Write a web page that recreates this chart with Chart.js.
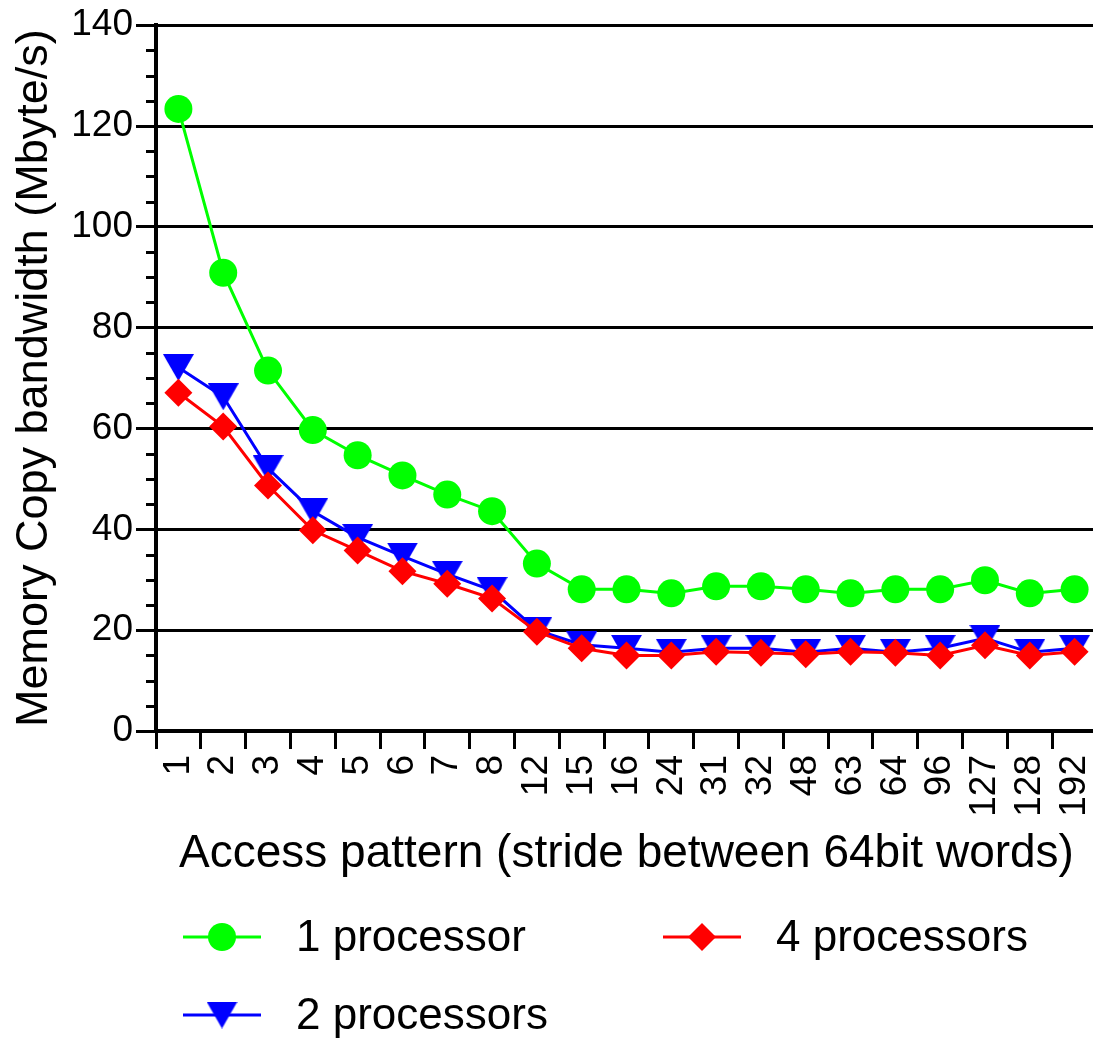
<!DOCTYPE html>
<html>
<head>
<meta charset="utf-8">
<title>Memory copy bandwidth</title>
<script src="https://cdn.jsdelivr.net/npm/chart.js"></script>
<style>
  html, body { margin: 0; padding: 0; background: #fff; overflow: hidden; }
  canvas { display: block; }
</style>
</head>
<body>
<canvas id="bandwidth" width="1111" height="1039"></canvas>
<script>
// stride between 64bit words
const strides = ['1', '2', '3', '4', '5', '6', '7', '8', '12', '15', '16', '24',
                 '31', '32', '48', '63', '64', '96', '127', '128', '192'];

// Mbyte/s
const oneProcessor = [123.4, 90.9, 71.5, 59.7, 54.7, 50.7, 46.9, 43.6, 33.2, 28.1, 28.1,
                      27.3, 28.7, 28.7, 28.1, 27.3, 28.1, 28.1, 29.9, 27.3, 28.1];
const twoProcessors = [72.1, 66.3, 52.1, 43.6, 38.4, 34.7, 31.1, 27.9, 20.0, 17.1, 16.4,
                       15.6, 16.4, 16.4, 15.6, 16.4, 15.6, 16.4, 18.4, 15.6, 16.4];
const fourProcessors = [67.1, 60.4, 48.7, 39.8, 35.8, 31.7, 29.2, 26.3, 19.7, 16.4, 15.0,
                        15.0, 15.7, 15.5, 15.2, 15.7, 15.5, 15.0, 17.0, 15.0, 15.7];

const FONT = '"Liberation Sans", Arial, Helvetica, sans-serif';

// downward triangle marker, drawn centred on the point
function downTriangle(w, h, color) {
    const c = document.createElement('canvas');
    c.width = w;
    c.height = h;
    const g = c.getContext('2d');
    g.fillStyle = color;
    g.beginPath();
    g.moveTo(0, 0);
    g.lineTo(w, 0);
    g.lineTo(w / 2, h);
    g.closePath();
    g.fill();
    return c;
}

const blueTriangle = downTriangle(31, 27, '#0000ff');

function drawMarker(ctx, ds, x, y) {
    ctx.save();
    ctx.fillStyle = ds.pointBackgroundColor;
    const r = ds.pointRadius;
    if (ds.pointStyle === 'circle') {
        ctx.beginPath();
        ctx.arc(x, y, r, 0, Math.PI * 2);
        ctx.fill();
    } else if (ds.pointStyle === 'rectRot') {
        ctx.beginPath();
        ctx.moveTo(x - r, y);
        ctx.lineTo(x, y - r);
        ctx.lineTo(x + r, y);
        ctx.lineTo(x, y + r);
        ctx.closePath();
        ctx.fill();
    } else {
        const img = ds.pointStyle;
        ctx.drawImage(img, x - img.width / 2, y - img.height / 2);
    }
    ctx.restore();
}

// small ticks every 5 Mbyte/s on the value axis
const minorTicks = {
    id: 'minorTicks',
    afterDraw(chart) {
        const ctx = chart.ctx;
        const y = chart.scales.y;
        const left = chart.chartArea.left;
        ctx.save();
        ctx.strokeStyle = '#000';
        ctx.lineWidth = 3;
        for (let v = 5; v < y.max; v += 5) {
            if (v % 20 === 0) continue;
            const py = Math.round(y.getPixelForValue(v)) + 0.5;
            ctx.beginPath();
            ctx.moveTo(left - 10, py);
            ctx.lineTo(left, py);
            ctx.stroke();
        }
        ctx.restore();
    }
};

// two column legend under the axis title
const legendOrder = [0, 2, 1];
const lineLegend = {
    id: 'lineLegend',
    afterDraw(chart) {
        const ctx = chart.ctx;
        const cols = [183, 663];
        const rows = [937, 1015];
        ctx.save();
        ctx.font = '44px ' + FONT;
        ctx.textBaseline = 'middle';
        ctx.fillStyle = '#000';
        legendOrder.forEach((idx, i) => {
            const ds = chart.data.datasets[idx];
            const x = cols[i % 2];
            const y = rows[Math.floor(i / 2)];
            ctx.strokeStyle = ds.borderColor;
            ctx.lineWidth = 3;
            ctx.beginPath();
            ctx.moveTo(x, y);
            ctx.lineTo(x + 78, y);
            ctx.stroke();
            drawMarker(ctx, ds, x + 39, y);
            ctx.fillText(ds.label, x + 113, y + 2);
        });
        ctx.restore();
    }
};

new Chart(document.getElementById('bandwidth'), {
    type: 'line',
    data: {
        labels: strides,
        datasets: [
            {
                label: '1 processor',
                data: oneProcessor,
                borderColor: '#00ff00',
                backgroundColor: '#00ff00',
                pointBackgroundColor: '#00ff00',
                pointBorderWidth: 0,
                pointStyle: 'circle',
                pointRadius: 14,
                borderWidth: 3,
                order: 2
            },
            {
                label: '2 processors',
                data: twoProcessors,
                borderColor: '#0000ff',
                backgroundColor: '#0000ff',
                pointBackgroundColor: '#0000ff',
                pointBorderWidth: 0,
                pointStyle: blueTriangle,
                pointRadius: 14,
                borderWidth: 3,
                order: 1
            },
            {
                label: '4 processors',
                data: fourProcessors,
                borderColor: '#ff0000',
                backgroundColor: '#ff0000',
                pointBackgroundColor: '#ff0000',
                pointBorderWidth: 0,
                pointStyle: 'rectRot',
                pointRadius: 14,
                borderWidth: 3,
                order: 0
            }
        ]
    },
    options: {
        responsive: false,
        animation: false,
        layout: { padding: { top: 24, right: 2.6, bottom: 157, left: 0 } },
        plugins: {
            legend: { display: false },
            tooltip: { enabled: false }
        },
        scales: {
            x: {
                type: 'category',
                offset: true,
                afterFit: (scale) => {
                    scale.height = 151;
                    // rotated labels sit inside the category slots, no side padding needed
                    scale.paddingLeft = 0;
                    scale.paddingRight = 0;
                },
                border: { display: true, color: '#000', width: 4 },
                grid: {
                    display: true,
                    offset: true,
                    drawOnChartArea: false,
                    drawTicks: true,
                    tickLength: 18,
                    tickColor: '#000',
                    tickWidth: 3
                },
                ticks: {
                    color: '#000',
                    font: { family: FONT, size: 37 },
                    minRotation: 90,
                    maxRotation: 90,
                    autoSkip: false,
                    padding: 6
                },
                title: {
                    display: true,
                    text: 'Access pattern (stride between 64bit words)',
                    color: '#000',
                    font: { family: FONT, size: 46 },
                    padding: 0
                }
            },
            y: {
                min: 0,
                max: 140,
                afterFit: (scale) => { scale.width = 156; },
                border: { display: true, color: '#000', width: 4 },
                grid: {
                    color: '#000',
                    lineWidth: 3,
                    drawTicks: true,
                    tickLength: 20
                },
                ticks: {
                    stepSize: 20,
                    color: '#000',
                    font: { family: FONT, size: 37 },
                    padding: 3
                },
                title: {
                    display: true,
                    text: 'Memory Copy bandwidth (Mbyte/s)',
                    color: '#000',
                    font: { family: FONT, size: 45 },
                    padding: { top: 8, bottom: 0 }
                }
            }
        }
    },
    plugins: [minorTicks, lineLegend]
});
</script>
</body>
</html>
